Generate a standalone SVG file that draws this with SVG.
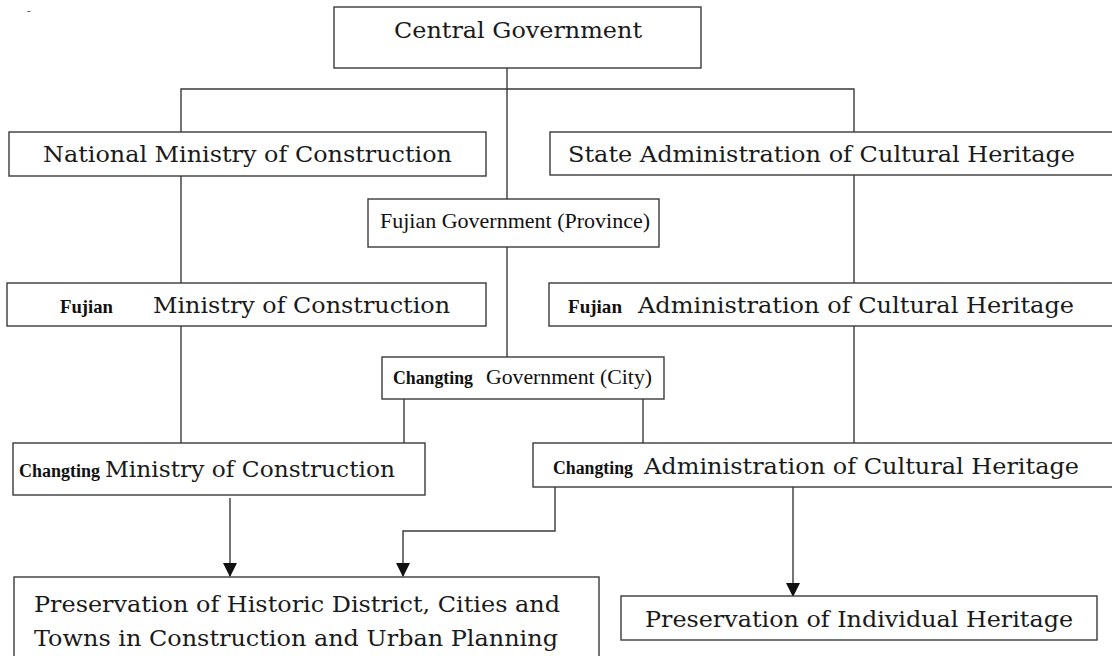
<svg xmlns="http://www.w3.org/2000/svg" width="1112" height="656" viewBox="0 0 1112 656">
<defs>
<style>
.box{fill:#fff;stroke:#3a3a3a;stroke-width:1.4}
.ln{fill:none;stroke:#3a3a3a;stroke-width:1.4}
.big{font-family:"DejaVu Serif","Liberation Serif",serif;font-size:23px;fill:#1a1a1a}
.sm{font-family:"Liberation Serif","Times New Roman",serif;font-size:22px;fill:#111}
.lbl{font-family:"Liberation Serif","Times New Roman",serif;font-size:19px;font-weight:bold;fill:#111}
</style>
<marker id="ah" markerWidth="14" markerHeight="14" viewBox="0 0 14 14" refX="13" refY="7" orient="auto" markerUnits="userSpaceOnUse">
<path d="M0,0 L14,7 L0,14 Z" fill="#111"/>
</marker>
</defs>
<rect width="1112" height="656" fill="#fff"/>
<text x="27" y="14" style="font-family:'Liberation Sans',sans-serif;font-size:11px;fill:#333">-</text>
<g id="connectors">
<path class="ln" d="M507,68 V199"/>
<path class="ln" d="M181,132 V89 H854 V132"/>
<path class="ln" d="M181,176 V283"/>
<path class="ln" d="M181,326 V443"/>
<path class="ln" d="M854,175 V283"/>
<path class="ln" d="M854,326 V443"/>
<path class="ln" d="M507,247 V357"/>
<path class="ln" d="M404,399 V443"/>
<path class="ln" d="M643,399 V443"/>
<path class="ln" d="M230,498 V576" marker-end="url(#ah)"/>
<path class="ln" d="M555,487 V531 H403 V576" marker-end="url(#ah)"/>
<path class="ln" d="M793,487 V596" marker-end="url(#ah)"/>
</g>
<g id="central">
<rect class="box" x="334" y="7" width="367" height="61"/>
<text class="big" x="394" y="38" textLength="248" lengthAdjust="spacingAndGlyphs">Central Government</text>
</g>
<g id="national-ministry">
<rect class="box" x="9" y="132" width="477" height="44"/>
<text class="big" x="43" y="162" textLength="409" lengthAdjust="spacingAndGlyphs">National Ministry of Construction</text>
</g>
<g id="state-admin">
<rect class="box" x="550" y="132" width="580" height="43"/>
<text class="big" x="568" y="162" textLength="507" lengthAdjust="spacingAndGlyphs">State Administration of Cultural Heritage</text>
</g>
<g id="fujian-gov">
<rect class="box" x="368" y="199" width="291" height="48"/>
<text class="sm" x="380" y="228" textLength="270" lengthAdjust="spacingAndGlyphs">Fujian Government (Province)</text>
</g>
<g id="fujian-ministry">
<rect class="box" x="7" y="283" width="479" height="43"/>
<text class="lbl" x="60" y="313" textLength="53" lengthAdjust="spacingAndGlyphs">Fujian</text>
<text class="big" x="153" y="313" textLength="297" lengthAdjust="spacingAndGlyphs">Ministry of Construction</text>
</g>
<g id="fujian-admin">
<rect class="box" x="549" y="283" width="581" height="43"/>
<text class="lbl" x="568" y="313" textLength="54" lengthAdjust="spacingAndGlyphs">Fujian</text>
<text class="big" x="638" y="313" textLength="436" lengthAdjust="spacingAndGlyphs">Administration of Cultural Heritage</text>
</g>
<g id="changting-gov">
<rect class="box" x="382" y="357" width="282" height="42"/>
<text class="lbl" x="393" y="384" style="font-size:18px" textLength="80" lengthAdjust="spacingAndGlyphs">Changting</text>
<text class="sm" x="486" y="384" textLength="166" lengthAdjust="spacingAndGlyphs">Government (City)</text>
</g>
<g id="changting-ministry">
<rect class="box" x="13" y="443" width="412" height="52"/>
<text class="lbl" x="19" y="477" style="font-size:18px" textLength="81" lengthAdjust="spacingAndGlyphs">Changting</text>
<text class="big" x="105" y="477" textLength="290" lengthAdjust="spacingAndGlyphs">Ministry of Construction</text>
</g>
<g id="changting-admin">
<rect class="box" x="533" y="443" width="597" height="44"/>
<text class="lbl" x="553" y="474" style="font-size:18px" textLength="80" lengthAdjust="spacingAndGlyphs">Changting</text>
<text class="big" x="644" y="474" textLength="435" lengthAdjust="spacingAndGlyphs">Administration of Cultural Heritage</text>
</g>
<g id="preservation-district">
<rect class="box" x="14" y="577" width="585" height="100"/>
<text class="big" x="34" y="612" textLength="526" lengthAdjust="spacingAndGlyphs">Preservation of Historic District, Cities and</text>
<text class="big" x="34" y="646" textLength="524" lengthAdjust="spacingAndGlyphs">Towns in Construction and Urban Planning</text>
</g>
<g id="preservation-individual">
<rect class="box" x="621" y="596" width="476" height="44"/>
<text class="big" x="645" y="627" textLength="428" lengthAdjust="spacingAndGlyphs">Preservation of Individual Heritage</text>
</g>
</svg>
